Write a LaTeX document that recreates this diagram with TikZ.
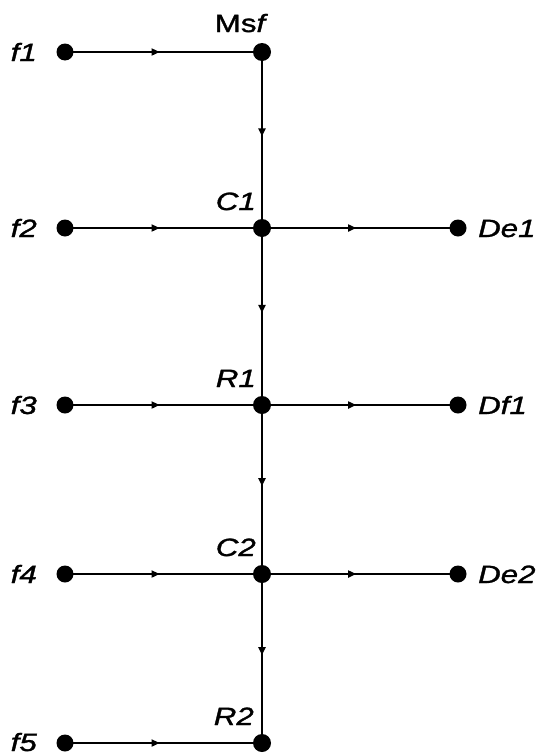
\documentclass[tikz,border=0pt]{standalone}
\usepackage{fontspec}
\setmainfont{Liberation Sans}[FakeBold=1.2]
\usetikzlibrary{arrows.meta,decorations.markings}
\newcommand\widetxt[1]{\scalebox{1.25}[1]{#1}}
\begin{document}
\begin{tikzpicture}[x=1pt,y=-1pt,
  dot/.style={circle,fill=black,inner sep=0pt,minimum size=17pt},
  cdot/.style={circle,fill=black,inner sep=0pt,minimum size=18pt},
  lbl/.style={font=\fontsize{25}{27}\selectfont\itshape,inner sep=0pt},
  flow/.style={line width=2pt,postaction={decorate},decoration={markings,mark=at position 0.48 with {\arrow{Triangle[length=8pt,width=7pt]}}}}]
\useasboundingbox (0,0) rectangle (545,755);
% nodes
\node[dot] (f1) at (65,52) {};
\node[dot] (f2) at (65,228) {};
\node[dot] (f3) at (65,405) {};
\node[dot] (f4) at (65,574) {};
\node[dot] (f5) at (65,743) {};
\node[cdot] (M) at (262,52) {};
\node[cdot] (C1) at (262,228) {};
\node[cdot] (R1) at (262,405) {};
\node[cdot] (C2) at (262,574) {};
\node[cdot] (R2) at (262,743) {};
\node[dot] (D1) at (458,228) {};
\node[dot] (D2) at (458,405) {};
\node[dot] (D3) at (458,574) {};
% connectors
\foreach \a/\b in {f1/M,f2/C1,f3/R1,f4/C2,f5/R2,M/C1,C1/R1,R1/C2,C2/R2,C1/D1,R1/D2,C2/D3}
  \draw[flow] (\a.center) -- (\b.center);
% labels
\node[lbl,anchor=base east] (lf1) at (37,61) {\widetxt{f1}};
\node[lbl,anchor=base east] (lf2) at (37,237) {\widetxt{f2}};
\node[lbl,anchor=base east] (lf3) at (37,414) {\widetxt{f3}};
\node[lbl,anchor=base east] (lf4) at (37,583) {\widetxt{f4}};
\node[lbl,anchor=base east] (lf5) at (37,751) {\widetxt{f5}};
\node[lbl,anchor=base] (lM) at (240,32) {\widetxt{\upshape Ms\itshape f}};
\node[lbl,anchor=base east] (lC1) at (256,210) {\widetxt{C1}};
\node[lbl,anchor=base east] (lR1) at (256,387) {\widetxt{R1}};
\node[lbl,anchor=base east] (lC2) at (256,556) {\widetxt{C2}};
\node[lbl,anchor=base east] (lR2) at (254,725) {\widetxt{R2}};
\node[lbl,anchor=base west] (lD1) at (478,237) {\widetxt{De1}};
\node[lbl,anchor=base west] (lD2) at (478,414) {\widetxt{Df1}};
\node[lbl,anchor=base west] (lD3) at (478,583) {\widetxt{De2}};
\end{tikzpicture}
\end{document}
